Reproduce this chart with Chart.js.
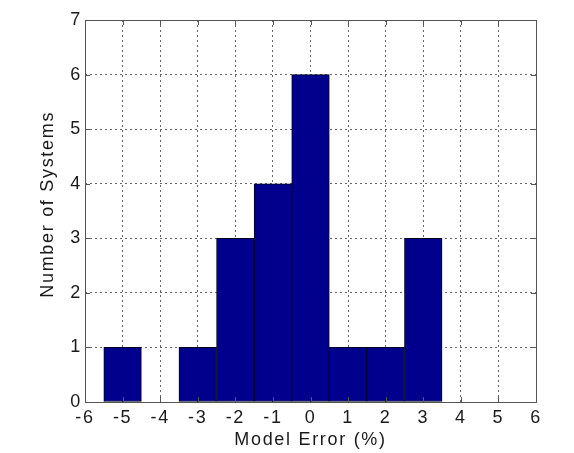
<!DOCTYPE html>
<html>
<head>
<meta charset="utf-8">
<script src="https://cdn.jsdelivr.net/npm/chart.js@4/dist/chart.umd.min.js"></script>
<style>
  html, body { margin: 0; padding: 0; background: #fff; }
  #wrap { width: 574px; height: 453px; }
</style>
</head>
<body>
<div id="wrap"><canvas id="histo"></canvas></div>
<script>
const binCenters = [-5, -4, -3, -2, -1, 0, 1, 2, 3];
const counts = [1, 0, 1, 3, 4, 6, 1, 1, 3];
const xTicks = [-6, -5, -4, -3, -2, -1, 0, 1, 2, 3, 4, 5, 6];
const yTicks = [0, 1, 2, 3, 4, 5, 6, 7];

const fonte = { family: "'Liberation Sans', Arial, sans-serif", size: 18 };
const corTexto = '#1a1a1a';

// matlab spaces letters wider than canvas does
const espaco = {
  id: 'espaco',
  beforeLayout(chart) { chart.ctx.letterSpacing = '1.7px'; },
  beforeDraw(chart) { chart.ctx.letterSpacing = '1.7px'; }
};

// box + inward ticks like matlab
const caixa = {
  id: 'caixa',
  afterDatasetsDraw(chart) {
    const { ctx, chartArea: a, scales } = chart;
    ctx.save();
    ctx.strokeStyle = '#555';
    ctx.lineWidth = 1;
    ctx.beginPath();
    xTicks.forEach(v => {
      const px = Math.round(scales.x.getPixelForValue(v)) + 0.5;
      ctx.moveTo(px, a.bottom); ctx.lineTo(px, a.bottom - 5);
      ctx.moveTo(px, a.top); ctx.lineTo(px, a.top + 5);
    });
    yTicks.forEach(v => {
      const py = Math.round(scales.y.getPixelForValue(v)) + 0.5;
      ctx.moveTo(a.left, py); ctx.lineTo(a.left + 5, py);
      ctx.moveTo(a.right, py); ctx.lineTo(a.right - 5, py);
    });
    ctx.stroke();
    ctx.strokeRect(Math.round(a.left) + 0.5, Math.round(a.top) + 0.5,
      Math.round(a.right - a.left), Math.round(a.bottom - a.top));
    ctx.restore();
  }
};

new Chart(document.getElementById('histo'), {
  type: 'bar',
  data: {
    datasets: [{
      data: binCenters.map((x, i) => ({ x: x, y: counts[i] })),
      backgroundColor: '#00008c',
      borderColor: '#000022',
      borderWidth: 1,
      borderSkipped: false,
      barPercentage: 1,
      categoryPercentage: 1
    }]
  },
  options: {
    responsive: true,
    maintainAspectRatio: false,
    animation: false,
    layout: { padding: { top: 20, right: 38, left: 0, bottom: 0 } },
    plugins: { legend: { display: false }, tooltip: { enabled: false } },
    scales: {
      x: {
        type: 'linear',
        min: -6, max: 6,
        offset: false,
        afterFit: s => { s.height = 51; },
        afterBuildTicks: s => { s.ticks = xTicks.map(v => ({ value: v })); },
        ticks: { color: corTexto, font: fonte, padding: 5, maxRotation: 0 },
        grid: { color: '#666', offset: false, drawTicks: false },
        border: { display: false, dash: [2, 3] },
        title: { display: true, text: 'Model Error (%)', color: corTexto, font: fonte, padding: { bottom: 2 } }
      },
      y: {
        min: 0, max: 7,
        afterFit: s => { s.width = 85; },
        afterBuildTicks: s => { s.ticks = yTicks.map(v => ({ value: v })); },
        ticks: { color: corTexto, font: fonte, padding: 3 },
        grid: { color: '#666', drawTicks: false },
        border: { display: false, dash: [2, 3] },
        title: { display: true, text: '  Number of Systems', color: corTexto, font: fonte, padding: { top: 37 } }
      }
    }
  },
  plugins: [espaco, caixa]
});
</script>
</body>
</html>
